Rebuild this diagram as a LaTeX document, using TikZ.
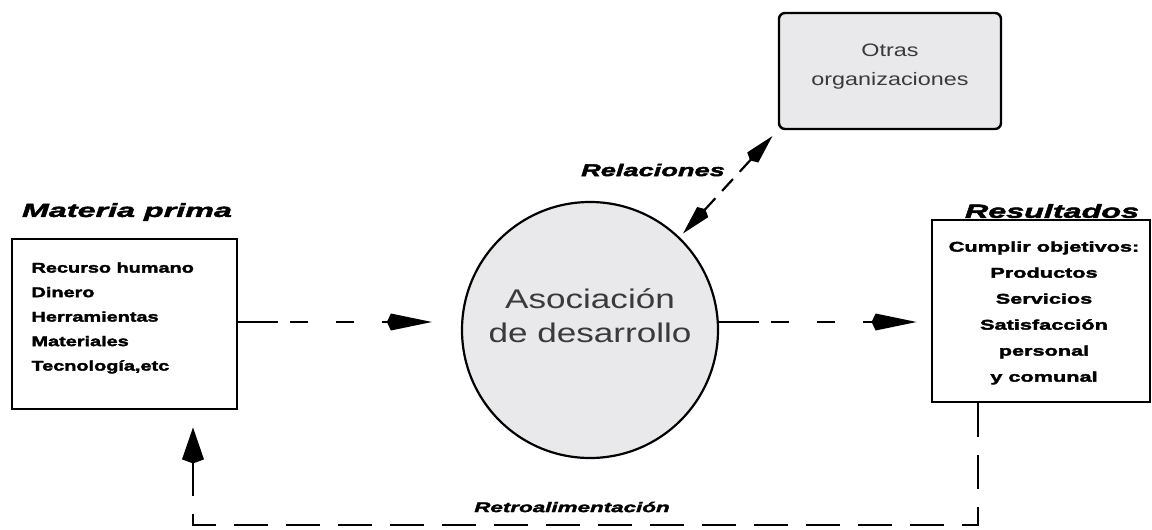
\documentclass[tikz,border=0pt]{standalone}
\usepackage{fontspec}
\setmainfont{Liberation Sans}
\newfontfamily\heavyfont{Liberation Sans}[FakeStretch=1.42,FakeBold=2.5]
\newfontfamily\heavywide{Liberation Sans}[FakeStretch=1.55,FakeBold=2.5]
\newfontfamily\titlefont{Liberation Sans}[FakeStretch=1.7,FakeBold=2.5]
\newfontfamily\labfont{Liberation Sans}[FakeStretch=1.6,FakeBold=2.5]
\newfontfamily\widefont{Liberation Sans}[FakeStretch=1.3]
\usetikzlibrary{arrows.meta,calc}
\definecolor{softgray}{HTML}{E9E9EB}
\definecolor{txtgray}{HTML}{3A3A3A}
\begin{document}
\begin{tikzpicture}[x=1pt,y=-1pt,
  box/.style={draw,line width=2.8pt,inner sep=0pt},
  htip/.style={-{Kite[length=45pt,width=17pt,inset=4pt]}},
  vtip/.style={-{Kite[length=36pt,width=22pt,inset=4pt]}},
  flow/.style={line width=2.8pt,dash pattern=on 40pt off 12pt on 18pt off 28pt on 18pt off 28pt on 18pt off 28pt,htip},
  heavy/.style={font=\heavyfont\bfseries\fontsize{14}{24.5}\selectfont},
  ttl/.style={font=\titlefont\bfseries\itshape\fontsize{19}{22}\selectfont},
  lab/.style={font=\labfont\bfseries\itshape\fontsize{14}{16}\selectfont}]
\useasboundingbox (0,0) rectangle (1152,530);

% boxes
\node[box,minimum width=225pt,minimum height=170pt] (lbox) at (124.5,324) {};
\node[heavy,align=left,anchor=west] (ltext) at (28,318)
  {Recurso humano\\Dinero\\Herramientas\\Materiales\\Tecnología,etc};
\node[ttl] (ltitle) at (127,212) {Materia prima};

\node[box,minimum width=218pt,minimum height=182pt] (rbox) at (1041,311) {};
\node[align=center,font=\heavywide\bfseries\fontsize{14}{26}\selectfont] (rtext) at (1044,313)
  {Cumplir objetivos:\\Productos\\Servicios\\Satisfacción\\personal\\y comunal};
\node[ttl] (rtitle) at (1052,211) {Resultados};

\node[box,line width=2.4pt,rounded corners=6pt,fill=softgray,minimum width=222pt,minimum height=116pt] (obox) at (890,71) {};
\node[align=center,text=txtgray,font=\widefont\fontsize{18}{29}\selectfont] (otext) at (890,67)
  {Otras\\organizaciones};

\node[circle,draw,line width=2.2pt,fill=softgray,minimum size=256pt] (assoc) at (590,330) {};
\node[align=center,text=txtgray,font=\widefont\fontsize{27}{34}\selectfont] (atext) at (590,316)
  {Asociación\\de desarrollo};

% flows
\coordinate (fy) at (0,322);
\draw[flow,shorten >=29pt] (lbox.east |- fy) -- (assoc.west |- fy);
\draw[flow,shorten >=14pt] (assoc.east |- fy) -- (rbox.west |- fy);

\draw[line width=2.2pt,dash pattern=on 16pt off 10pt,
  {Kite[length=33pt,width=15pt,inset=4pt]}-{Kite[length=33pt,width=15pt,inset=4pt]},
  shorten <=5pt,shorten >=8pt] (assoc.46) -- (obox.south west);
\node[lab,font=\labfont\bfseries\itshape\fontsize{17}{18}\selectfont] (rellab) at (653,170) {Relaciones};

\coordinate (fbr) at (978,525);
\coordinate (fbl) at (193,525);
\draw[line width=2.8pt,dash pattern=on 34pt off 18pt,vtip,shorten >=17pt]
  (rbox.south -| fbr) -- (fbr) -- (fbl) -- (lbox.south -| fbl);
\node[lab] (fblab) at (572,507) {Retroalimentación};
\end{tikzpicture}
\end{document}
